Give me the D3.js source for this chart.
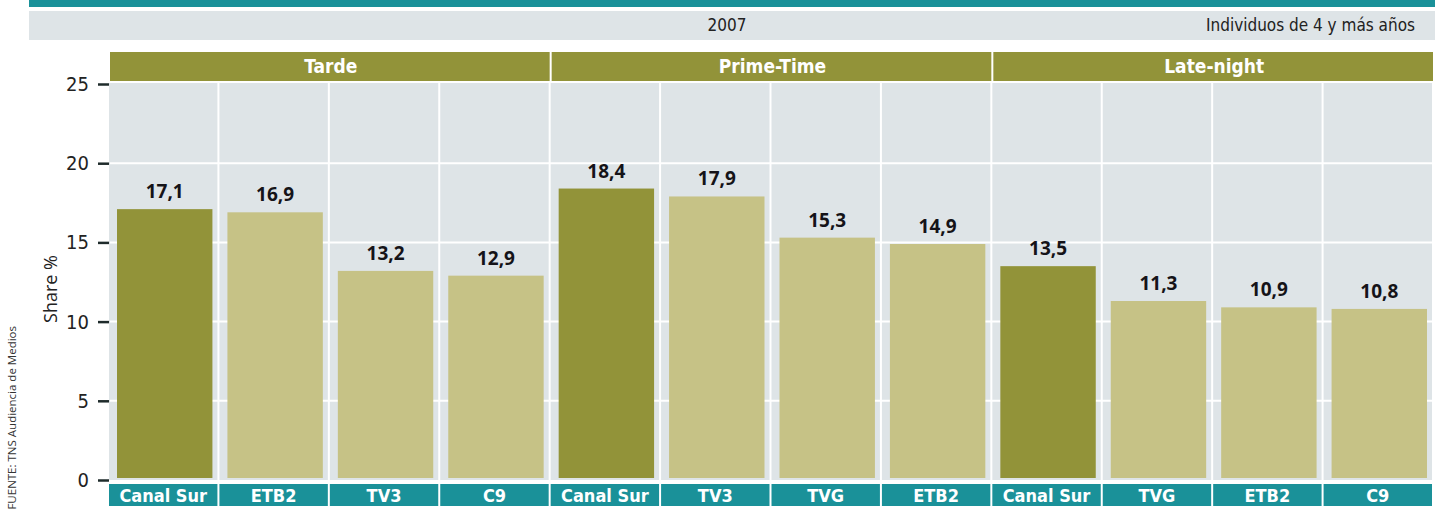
<!DOCTYPE html>
<html>
<head>
<meta charset="utf-8">
<script src="https://cdn.jsdelivr.net/npm/d3@7"></script>
<style>
  body { margin: 0; background: #fff; }
  svg { display: block; }
</style>
</head>
<body>
<script>
// Chart data
const franjas = ["Tarde", "Prime-Time", "Late-night"];
const cadenas = [
    ["Canal Sur", "ETB2", "TV3", "C9"],
    ["Canal Sur", "TV3", "TVG", "ETB2"],
    ["Canal Sur", "TVG", "ETB2", "C9"]
];
const shares = [
    [17.1, 16.9, 13.2, 12.9],
    [18.4, 17.9, 15.3, 14.9],
    [13.5, 11.3, 10.9, 10.8]
];
const yTicks = [0, 5, 10, 15, 20, 25];
const year = "2007";
const universe = "Individuos de 4 y más años";
const yTitle = "Share %";
const source = "FUENTE: TNS Audiencia de Medios";

const width = 1435;
const height = 511;
const marginLeft = 110;
const plotTop = 83;
const plotBottom = 480;

const olive = "#929339";
const oliveLight = "#c6c286";
const teal = "#1a9199";
const panel = "#dee4e7";
const condensed = "'Liberation Sans Narrow', 'DejaVu Sans Condensed', sans-serif";

const rows = [];
franjas.forEach((f, gi) => {
    cadenas[gi].forEach((c, ci) => {
        rows.push({ key: gi + "-" + ci, group: f, gi, name: c, value: shares[gi][ci], first: ci === 0 });
    });
});

const svg = d3.select("body")
    .append("svg")
        .attr("width", width)
        .attr("height", height);

// Top banner and subtitle strip
svg.append("rect")
    .attr("x", 29).attr("y", 0)
    .attr("width", width - 29).attr("height", 7)
    .attr("fill", teal);
svg.append("rect")
    .attr("x", 29).attr("y", 11)
    .attr("width", width - 29).attr("height", 29)
    .attr("fill", panel);
svg.append("text")
    .attr("x", 727).attr("y", 31)
    .attr("text-anchor", "middle")
    .style("font-family", condensed)
    .style("font-size", "17px")
    .attr("fill", "#222")
    .text(year);
svg.append("text")
    .attr("x", 1415).attr("y", 31)
    .attr("text-anchor", "end")
    .style("font-family", condensed)
    .style("font-size", "17px")
    .attr("fill", "#222")
    .text(universe);

const x = d3.scaleBand()
    .domain(rows.map(d => d.key))
    .range([marginLeft, width])
    .padding(0);

const y = d3.scaleLinear()
    .domain([0, 25])
    .range([plotBottom, plotTop + 1]);

const bw = x.bandwidth();

// Panel cells
svg.append("g")
    .selectAll("rect")
    .data(rows)
    .join("rect")
        .attr("x", d => x(d.key) - 1)
        .attr("y", plotTop)
        .attr("width", bw - 2)
        .attr("height", plotBottom - plotTop)
        .attr("fill", panel);

// White gridlines
svg.append("g")
    .selectAll("line")
    .data(yTicks.filter(t => t > 0 && t < 25))
    .join("line")
        .attr("x1", marginLeft)
        .attr("x2", width)
        .attr("y1", d => y(d))
        .attr("y2", d => y(d))
        .attr("stroke", "#fff")
        .attr("stroke-width", 2);

// Bars
svg.append("g")
    .selectAll("rect")
    .data(rows)
    .join("rect")
        .attr("x", d => x(d.key) + 7)
        .attr("y", d => y(d.value))
        .attr("width", bw - 15)
        .attr("height", d => y(0) - 2 - y(d.value))
        .attr("fill", d => d.first ? olive : oliveLight);

// Value labels
svg.append("g")
    .selectAll("text")
    .data(rows)
    .join("text")
        .attr("x", d => x(d.key) + 7 + (bw - 15) / 2)
        .attr("y", d => y(d.value) - 11)
        .attr("text-anchor", "middle")
        .style("font-family", "'Open Sans', sans-serif")
        .style("font-weight", "bold")
        .style("font-size", "19px")
        .attr("fill", "#151318")
        .text(d => d3.format(".1f")(d.value).replace(".", ","));

// Group headers
const groupExtent = franjas.map((f, gi) => {
    const keys = rows.filter(r => r.gi === gi).map(r => r.key);
    return { name: f, x0: x(keys[0]), x1: x(keys[keys.length - 1]) + bw };
});
svg.append("g")
    .selectAll("rect")
    .data(groupExtent)
    .join("rect")
        .attr("x", d => d.x0)
        .attr("y", 52)
        .attr("width", d => d.x1 - d.x0 - 2)
        .attr("height", 29)
        .attr("fill", olive);
svg.append("g")
    .selectAll("text")
    .data(groupExtent)
    .join("text")
        .attr("x", d => (d.x0 + d.x1) / 2)
        .attr("y", 73)
        .attr("text-anchor", "middle")
        .style("font-family", condensed)
        .style("font-weight", "bold")
        .style("font-size", "19px")
        .attr("fill", "#fff")
        .text(d => d.name);

// Channel labels
svg.append("g")
    .selectAll("rect")
    .data(rows)
    .join("rect")
        .attr("x", d => x(d.key) - 1)
        .attr("y", 484)
        .attr("width", bw - 2)
        .attr("height", 22)
        .attr("fill", teal);
svg.append("g")
    .selectAll("text")
    .data(rows)
    .join("text")
        .attr("x", d => x(d.key) - 1 + (bw - 2) / 2)
        .attr("y", 502)
        .attr("text-anchor", "middle")
        .style("font-family", condensed)
        .style("font-weight", "bold")
        .style("font-size", "18px")
        .attr("fill", "#fff")
        .text(d => d.name);

// Y axis
const yAxis = svg.append("g")
    .attr("transform", `translate(${marginLeft - 1},0)`)
    .call(d3.axisLeft(y).tickValues(yTicks).tickSize(11).tickPadding(9));
yAxis.select(".domain").remove();
yAxis.selectAll(".tick line")
    .attr("stroke", "#1e2b2b")
    .attr("stroke-width", 2.5);
yAxis.selectAll(".tick text")
    .attr("fill", "#222")
    .style("font-family", condensed)
    .style("font-size", "20px");

svg.append("text")
    .attr("transform", `translate(57,${(y(0) + y(25)) / 2 + 7}) rotate(-90)`)
    .attr("text-anchor", "middle")
    .style("font-family", "'Open Sans', sans-serif")
    .style("font-size", "18px")
    .attr("fill", "#222")
    .text(yTitle);

// Source note
svg.append("text")
    .attr("transform", `translate(16,326) rotate(-90)`)
    .attr("text-anchor", "end")
    .style("font-family", "'Open Sans', sans-serif")
    .style("font-size", "11.5px")
    .attr("fill", "#333")
    .text(source);
</script>
</body>
</html>
